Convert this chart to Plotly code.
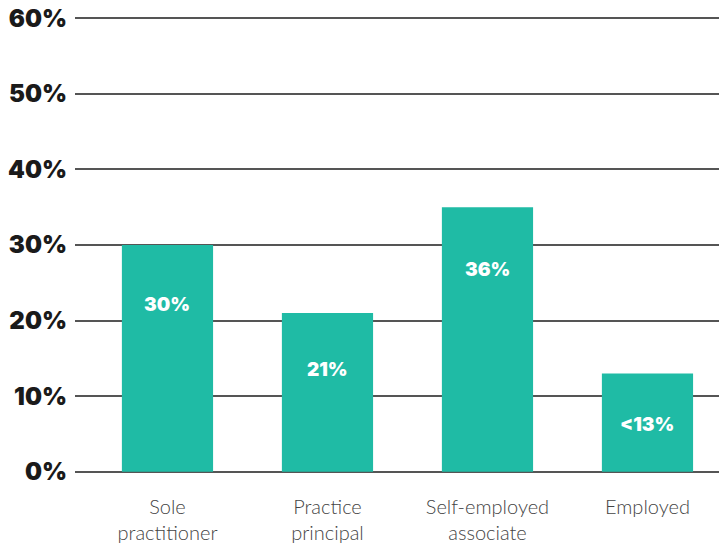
import plotly.graph_objects as go

categories = ["Sole<br>practitioner", "Practice<br>principal", "Self-employed<br>associate", "Employed"]
values = [30, 21, 35, 13]
labels = ["30%", "21%", "36%", "<13%"]
tick_vals = [0, 10, 20, 30, 40, 50, 60]
tick_text = ["0%", "10%", "20%", "30%", "40%", "50%", "60%"]

BAR = "#1fbba5"
label_shift = [-59, -56, -62, -51]

fig = go.Figure()
fig.add_trace(go.Bar(
    x=list(range(len(categories))), y=values, marker=dict(color=BAR, line=dict(width=0)),
    width=0.57, hoverinfo="skip",
))

for i, (v, t) in enumerate(zip(values, labels)):
    fig.add_annotation(x=i, y=v, text=t, showarrow=False, yshift=label_shift[i],
                       font=dict(family="Inter", size=19, color="white", weight=900))

fig.update_layout(
    width=719, height=544,
    margin=dict(l=75, r=0, t=17, b=68),
    paper_bgcolor="white", plot_bgcolor="white",
    showlegend=False,
    xaxis=dict(
        range=[-0.578, 3.447], tickmode="array", tickvals=list(range(len(categories))),
        ticktext=categories, showgrid=False, zeroline=False, showline=False,
        tickfont=dict(family="Lato", size=20, color="#444444", weight=300),
        ticks="", ticklabelstandoff=20,
    ),
    yaxis=dict(
        range=[-0.15, 60.15], tickmode="array", tickvals=tick_vals, ticktext=tick_text,
        showgrid=True, gridcolor="#555555", gridwidth=1.5, zeroline=False, showline=False,
        tickfont=dict(family="Inter", size=24, color="#1a1a1a", weight=900),
        ticks="", ticklabelstandoff=7,
    ),
)
fig.write_html("out.html")
